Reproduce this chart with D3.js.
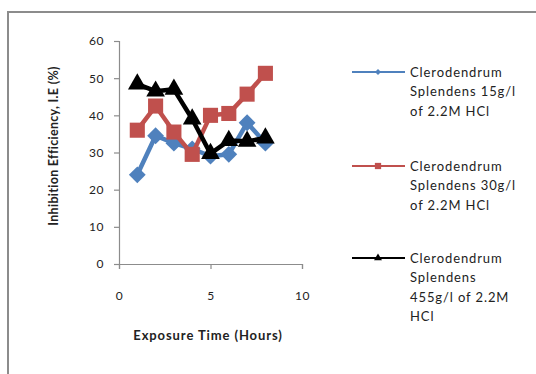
<!DOCTYPE html>
<html>
<head>
<meta charset="utf-8">
<script src="https://cdn.jsdelivr.net/npm/d3@7"></script>
<style>
  body { margin: 0; background: #fff; }
  text { font-family: Lato, "Open Sans", sans-serif; fill: #222; }
</style>
</head>
<body>
<div id="chart"></div>
<script>
// exposure time (hours)
const hours = [1, 2, 3, 4, 5, 6, 7, 8];

// inhibition efficiency (%) per series
const ie15 = [24, 34.5, 32.5, 31, 29, 29.5, 38, 32.5];
const ie30 = [36, 42.5, 35.5, 29.5, 40, 40.5, 45.7, 51.3];
const ie455 = [48.4, 46.5, 47, 39, 29.7, 33.2, 33, 33.9];

const seriesNames = [
  ["Clerodendrum", "Splendens 15g/l", "of 2.2M HCl"],
  ["Clerodendrum", "Splendens 30g/l", "of 2.2M HCl"],
  ["Clerodendrum", "Splendens", "455g/l of 2.2M", "HCl"]
];
const xTicks = [0, 5, 10];
const yTicks = [0, 10, 20, 30, 40, 50, 60];

const W = 536, H = 374;
const margin = {top: 41, left: 119, right: 234, bottom: 110};
const width = W - margin.left - margin.right,
      height = H - margin.top - margin.bottom;

const svg = d3.select("#chart").append("svg")
  .attr("width", W).attr("height", H);

// outer frame (cut off right and bottom)
svg.append("path")
  .attr("d", "M8,380 L8,12 L540,12")
  .attr("fill", "none").attr("stroke", "#8c8c8c").attr("stroke-width", 2);

const g = svg.append("g")
  .attr("transform", `translate(${margin.left},${margin.top})`);

const x = d3.scaleLinear().domain([0, 10]).range([0, width]);
const y = d3.scaleLinear().domain([0, 60]).range([height, 0]);

const xAxis = g.append("g")
  .attr("transform", `translate(0,${height})`)
  .call(d3.axisBottom(x).tickValues(xTicks).tickSize(5).tickPadding(22));
const yAxis = g.append("g")
  .call(d3.axisLeft(y).tickValues(yTicks).tickSize(5).tickPadding(10));

[xAxis, yAxis].forEach(a => {
  a.select(".domain").attr("stroke", "#8c8c8c").attr("stroke-width", 1.2);
  a.selectAll(".tick line").attr("stroke", "#8c8c8c").attr("stroke-width", 1.2);
  a.selectAll(".tick text")
    .style("font-family", "Lato, 'Open Sans', sans-serif")
    .style("font-size", "12px").style("letter-spacing", "0.5px")
    .attr("fill", "#333");
});
// x tick marks point down from the axis
xAxis.selectAll(".tick line").attr("y1", 0).attr("y2", 5);

// axis titles
svg.append("text")
  .attr("x", 208).attr("y", 340)
  .attr("text-anchor", "middle")
  .style("font-size", "13px").style("font-weight", "bold")
  .style("letter-spacing", "0.9px")
  .text("Exposure Time (Hours)");

svg.append("text")
  .attr("transform", "translate(54,146) rotate(-90)")
  .attr("text-anchor", "middle").attr("dy", "0.35em")
  .style("font-size", "12.5px").style("font-weight", "bold")
  .style("letter-spacing", "0.3px")
  .text("Inhibition Efficiency, I.E (%)");

const series = [
  {values: ie15, color: "#4f81bd", symbol: d3.symbolDiamond2, size: 180, legSize: 24},
  {values: ie30, color: "#c0504d", symbol: d3.symbolSquare2, size: 290, legSize: 50},
  {values: ie455, color: "#000000", symbol: d3.symbolTriangle2, size: 250, legSize: 45}
];

const line = d3.line()
  .x((d, i) => x(hours[i]))
  .y(d => y(d));

series.forEach(s => {
  g.append("path")
    .datum(s.values)
    .attr("fill", "none")
    .attr("stroke", s.color)
    .attr("stroke-width", 4.5)
    .attr("stroke-linejoin", "round")
    .attr("d", line);

  g.selectAll(null)
    .data(s.values)
    .enter()
    .append("path")
    .attr("transform", (d, i) => `translate(${x(hours[i])},${y(d)})`)
    .attr("d", d3.symbol().type(s.symbol).size(s.size))
    .attr("fill", s.color);
});

// legend
const legend = svg.append("g");
const legendY = [72, 166, 258];
series.forEach((s, i) => {
  const ly = legendY[i];
  legend.append("line")
    .attr("x1", 352).attr("x2", 405)
    .attr("y1", ly).attr("y2", ly)
    .attr("stroke", s.color).attr("stroke-width", 2);
  legend.append("path")
    .attr("transform", `translate(378,${ly})`)
    .attr("d", d3.symbol().type(s.symbol).size(s.legSize))
    .attr("fill", s.color);
  const t = legend.append("text")
    .attr("x", 410).attr("y", ly)
    .style("font-size", "13px")
    .style("letter-spacing", "0.9px");
  seriesNames[i].forEach((ln, j) => {
    t.append("tspan")
      .attr("x", 410)
      .attr("y", ly + j * 19.5)
      .attr("dy", "0.35em")
      .text(ln);
  });
});
</script>
</body>
</html>
